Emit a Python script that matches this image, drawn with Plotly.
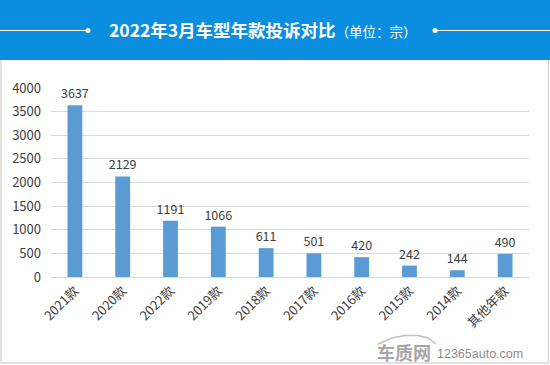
import plotly.graph_objects as go

categories = ["2021款", "2020款", "2022款", "2019款", "2018款", "2017款", "2016款", "2015款", "2014款", "其他年款"]
values = [3637, 2129, 1191, 1066, 611, 501, 420, 242, 144, 490]
y_ticks = [0, 500, 1000, 1500, 2000, 2500, 3000, 3500, 4000]

W, H = 550, 365
L, R, T, B = 51, 21, 88, 88
PW = W - L - R
PH = H - T - B

def px(x):
    return (x - L) / PW

def py(y):
    return (H - B - y) / PH

FONT = "Noto Sans CJK SC, Microsoft YaHei, sans-serif"

fig = go.Figure(go.Bar(
    x=categories, y=values, width=0.31,
    marker=dict(color="#5B9BD5", line=dict(width=0)),
    text=[str(v) for v in values], textposition="outside",
    textfont=dict(size=12.5, color="#404040", family=FONT),
    constraintext="none",
    cliponaxis=False,
    hoverinfo="skip",
))

def path(points):
    return "M " + " L ".join(f"{px(x)},{py(y)}" for x, y in points)

shapes = [
    # white area border
    dict(type="rect", xref="paper", yref="paper", x0=px(1), x1=px(548.5), y0=py(363), y1=py(58),
         line=dict(color="#D9D9D9", width=1.5), fillcolor="rgba(0,0,0,0)", layer="below"),
    # header
    dict(type="rect", xref="paper", yref="paper", x0=px(0), x1=px(550), y0=py(60), y1=py(0),
         line=dict(width=0), fillcolor="#0B8EE0", layer="below"),
    dict(type="line", xref="paper", yref="paper", x0=px(0), x1=px(88), y0=py(30.5), y1=py(30.5),
         line=dict(color="white", width=1.2)),
    dict(type="line", xref="paper", yref="paper", x0=px(435), x1=px(550), y0=py(30.5), y1=py(30.5),
         line=dict(color="white", width=1.2)),
    dict(type="circle", xref="paper", yref="paper", x0=px(85.5), x1=px(90.5), y0=py(33), y1=py(28),
         line=dict(width=0), fillcolor="white"),
    dict(type="circle", xref="paper", yref="paper", x0=px(432.5), x1=px(437.5), y0=py(33), y1=py(28),
         line=dict(width=0), fillcolor="white"),
    # watermark car roof outline
    dict(type="path", xref="paper", yref="paper",
         path=path([(378, 344), (392, 338), (405, 335.5), (418, 335.5), (428, 338), (436, 344)]),
         line=dict(color="#BFBFBF", width=1.5)),
]

annotations = [
    dict(xref="paper", yref="paper", x=px(263), y=py(30), xanchor="center", yanchor="middle", showarrow=False,
         text="<b>2022年3月车型年款投诉对比</b><span style='font-size:13.5px'>（单位：宗）</span>",
         font=dict(size=17.5, color="white", family=FONT)),
    dict(xref="paper", yref="paper", x=px(433), y=py(351.5), xanchor="right", yanchor="middle", showarrow=False,
         text="<b>车质网</b>", font=dict(size=18, color="#A6A6A6", family=FONT)),
    dict(xref="paper", yref="paper", x=px(435), y=py(354), xanchor="left", yanchor="middle", showarrow=False,
         text="12365auto.com", font=dict(size=12.5, color="#8C8C8C", family="Liberation Sans, Arial, sans-serif")),
]

fig.update_layout(
    width=W, height=H,
    margin=dict(l=L, r=R, t=T, b=B, pad=0, autoexpand=False),
    paper_bgcolor="white", plot_bgcolor="white",
    showlegend=False,
    hovermode=False,
    shapes=shapes, annotations=annotations,
    xaxis=dict(type="category", tickangle=-45, tickfont=dict(size=13, color="#404040", family=FONT),
               showline=True, linecolor="#D9D9D9", linewidth=1, ticks="", showgrid=False,
               range=[-0.5, 9.5], automargin=False),
    yaxis=dict(range=[0, 4000], tickvals=y_ticks, tickfont=dict(size=13, color="#404040", family=FONT),
               showgrid=True, gridcolor="#D9D9D9", gridwidth=1, zeroline=False, ticks="",
               ticklabelstandoff=9, automargin=False),
    font=dict(family=FONT),
)

fig.write_html("out.html", config={"displayModeBar": False},
               post_script="document.body.style.margin='0';document.body.style.overflow='hidden';")
